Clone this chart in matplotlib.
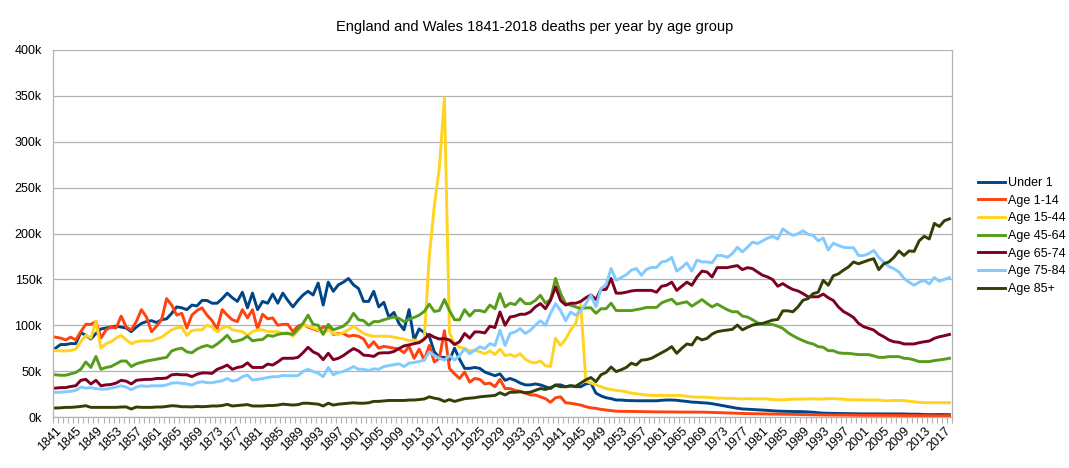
import matplotlib
matplotlib.use("Agg")
import matplotlib.pyplot as plt
from matplotlib.ticker import FixedLocator, FuncFormatter

plt.rcParams['font.family'] = ['Liberation Sans', 'DejaVu Sans']

# deaths per year, in thousands, 1841-2018
years = list(range(1841, 2019))

under1 = [
    75, 79, 79, 80, 80, 92, 89, 85, 91, 96,
    97, 98, 99, 98, 97, 93, 98, 102, 104, 105,
    103, 106, 107, 113, 120, 119, 117, 122, 121, 127,
    127, 124, 124, 129, 135, 130, 126, 136, 119, 135,
    117, 126, 124, 134, 124, 135, 127, 120, 127, 133,
    137, 133, 146, 122, 147, 137, 144, 147, 151, 144,
    140, 126, 126, 137, 120, 125, 109, 114, 102, 95,
    117, 84, 96, 92, 88, 71, 65, 65, 62, 75,
    63, 53, 53, 54, 53, 49, 47, 45, 47, 40,
    42, 40, 37, 35, 35, 36, 35, 33, 31, 35,
    35, 33, 34, 33, 33, 36, 37, 26, 23, 21,
    20, 18.5, 18.5, 18, 17.8, 17.7, 17.7, 17.6, 17.6, 17.7,
    18.2, 18.5, 18.5, 18.2, 17.5, 17, 16.2, 16, 15.5, 15.2,
    14.5, 13.5, 12.5, 11.6, 10.5, 9.5, 8.8, 8.5, 8.3, 8,
    7.5, 7.2, 6.8, 6.4, 6.2, 6.1, 6, 6, 5.8, 5.5,
    5.2, 4.6, 4.2, 4, 3.9, 3.8, 3.7, 3.6, 3.6, 3.5,
    3.4, 3.4, 3.5, 3.5, 3.5, 3.5, 3.4, 3.4, 3.3, 3.1,
    3.1, 3.0, 2.7, 2.6, 2.6, 2.7, 2.6, 2.5,
]

age1_14 = [
    87, 86, 84, 87, 84, 93, 101, 101, 104, 86,
    95, 98, 97, 110, 98, 95, 104, 117, 109, 93,
    99, 106, 129, 122, 111, 113, 97, 111, 116, 119,
    111, 105, 96, 117, 111, 106, 104, 117, 108, 117,
    96, 112, 107, 108, 100, 101, 101, 93, 99, 101,
    98, 96, 94, 98, 98, 90, 91, 91, 88, 89,
    88, 85, 76, 82, 75, 77, 76, 75, 74, 70,
    77, 64, 74, 62, 78, 60, 64, 94, 53, 47,
    42, 49, 38, 42, 41, 36, 37, 33, 41, 31,
    31, 29, 28, 26, 24, 24, 22, 20, 16, 21,
    22, 15.5, 15, 14, 13, 11.2, 10, 9.4, 8.3, 7.6,
    7, 6.3, 6.2, 6, 5.9, 5.8, 5.8, 5.7, 5.6, 5.6,
    5.6, 5.6, 5.5, 5.4, 5.4, 5.4, 5.3, 5.3, 5.3, 5.2,
    5, 4.8, 4.6, 4.4, 4.2, 4, 3.8, 3.7, 3.6, 3.5,
    3.3, 3.2, 3.1, 3, 2.9, 2.9, 2.8, 2.8, 2.7, 2.6,
    2.5, 2.4, 2.3, 2.2, 2.1, 2.1, 2, 2, 1.9, 1.9,
    1.8, 1.8, 1.8, 1.7, 1.7, 1.7, 1.7, 1.6, 1.6, 1.6,
    1.5, 1.5, 1.5, 1.4, 1.4, 1.4, 1.4, 1.4,
]

age15_44 = [
    72.5, 72, 72, 72.5, 74, 82, 89, 86, 104, 75,
    80, 82, 86, 89, 84, 80, 82, 83, 83, 83,
    85, 87, 91, 95, 97, 98, 89, 94, 95, 95,
    100, 98, 93, 97, 99, 95, 94, 93, 89, 93,
    95, 95, 93, 93, 93, 91, 92, 88, 94, 100,
    99, 97, 95, 91, 95, 91, 90, 92, 95, 99,
    95, 91, 89, 88, 88, 88, 88, 87, 86, 85,
    83, 84, 82, 84, 175, 230, 272, 348, 92, 80,
    76, 75, 72, 73, 71, 69, 72, 68, 74, 67,
    68, 66, 69, 63, 60, 59, 61, 56, 55, 86,
    78, 85, 95, 102, 123, 39, 37, 35, 33, 31,
    30, 29, 28.5, 27.5, 26, 25.3, 24.5, 24, 23.5, 23.5,
    23.5, 23.5, 23.5, 23.5, 23.5, 22.5, 22, 21.7, 21.7, 21.5,
    21, 20.6, 20.6, 20.3, 20.3, 20, 19.7, 20, 19.8, 19.8,
    19.8, 19.6, 19, 18.8, 18.8, 19, 19.5, 19.5, 19.5, 19.8,
    19.8, 19.5, 19.6, 20, 20, 19.7, 19.4, 18.8, 18.8, 18.8,
    18.6, 18.5, 18.5, 18.5, 17.7, 17.7, 18, 18, 17.8, 17.2,
    16.5, 16, 15.6, 15.6, 15.6, 15.6, 15.6, 15.6,
]

age45_64 = [
    46, 45.5, 45.5, 47, 48.5, 52, 60, 54, 66, 52,
    54, 55, 58, 61, 61, 55, 58, 59.5, 61, 62,
    63, 64, 65, 72, 74, 75, 71, 70, 74, 76.5,
    78, 76, 79.5, 84, 89, 82, 83, 84.5, 88, 83,
    84, 84.5, 89, 88, 90, 91, 91, 90, 96, 102,
    111, 101, 100, 90, 101, 95, 97, 99, 104, 113,
    106, 105, 100, 104, 104, 106, 107.5, 109, 107.5, 104,
    106.5, 108.5, 111, 115, 123, 115, 116, 128, 116, 106,
    106, 117, 110, 116, 116, 114.5, 122, 118, 134.5, 120,
    124, 122.5, 129, 123.6, 123.6, 127, 132.7, 124, 128, 151,
    134.5, 123.6, 121.8, 120, 118, 119, 119, 113, 118, 118,
    124, 116, 116, 116, 116, 117, 118, 119.4, 119.4, 119.4,
    124.4, 126.6, 128.4, 123, 124.4, 125.5, 120.8, 124.4, 128, 123.7,
    120, 123, 120, 117, 114.7, 114.7, 110, 109, 106, 102.7,
    101, 101, 100.7, 99, 96.6, 92, 88.6, 85.7, 83.2, 81,
    79.6, 76.7, 76, 72.3, 72.3, 70, 69.4, 69.4, 68.7, 68,
    68, 68, 66.6, 65, 65, 65.8, 65.8, 65.8, 64, 63.6,
    62.2, 60.4, 60.4, 60.4, 61.5, 62.2, 63, 64,
]

age65_74 = [
    31.5, 32, 32, 33.3, 34, 40, 41, 36, 40, 34,
    35, 35.5, 37, 40, 39, 36, 40, 40.6, 41, 41,
    42, 42, 42.5, 46, 46.5, 46, 46, 44, 46.5, 48,
    48, 47.5, 52, 54, 56.6, 52, 54, 55, 59, 54,
    54, 54, 57.7, 56.6, 60, 64, 64, 64, 65, 70,
    76, 71, 68.5, 62.5, 69.5, 62.5, 64, 67, 71, 74.6,
    72, 67.4, 67, 66, 69.6, 70, 70, 71.4, 74.6, 77.5,
    78.6, 80, 81, 85, 90, 87, 85, 85.5, 84, 79,
    82, 91, 86, 92.7, 92.7, 91.6, 99, 97.5, 114.5, 100,
    109, 110, 112, 112, 114.5, 120, 123.6, 118, 127, 141.8,
    127, 122, 124, 124, 126, 130, 133, 128, 139, 139,
    151, 135, 135, 136, 137.4, 138, 138, 138, 138, 136,
    142.5, 143.6, 147, 138, 142.5, 147, 143.6, 152.6, 159, 158,
    152.6, 162.8, 162.8, 162.8, 164, 165, 160.6, 162.8, 161.7, 158,
    154.5, 152.6, 149.7, 142.5, 145.4, 141.8, 139, 137.4, 134.5, 131,
    131, 131, 134, 130, 127, 120, 115, 112, 108.5, 102,
    98.4, 96.6, 94.8, 90.4, 87.5, 84, 82, 81.4, 79.6, 79.6,
    79.6, 81, 82, 82.8, 85.7, 87.5, 88.6, 90,
]

age75_84 = [
    26.8, 27, 27.5, 28, 29, 32.6, 31.5, 32, 31, 30.4,
    30.4, 31.5, 32.6, 34, 32.6, 29.7, 32.6, 34, 33.3, 34,
    34, 34, 35, 37, 37.4, 36.6, 36, 34.8, 37.4, 38.5,
    37.4, 37.4, 38.5, 39.5, 42, 39, 40.3, 43.9, 45.7, 40.3,
    41, 42, 43, 43.9, 43.9, 45.3, 45, 45, 45, 49.6,
    52, 49.6, 47.8, 44, 54, 46, 48.5, 49.6, 52, 55,
    52, 52, 50.7, 52.5, 52, 55, 56, 57, 58, 55,
    58.7, 59.4, 60.5, 62, 71, 67, 64, 62, 67, 62,
    67, 74.5, 69, 72.7, 76.4, 74.5, 80, 78, 94.5, 78,
    91, 92.7, 96.4, 91, 94.5, 100, 105, 100, 112.7, 123.6,
    116, 105, 114.5, 111, 116, 123.6, 132.7, 120, 140, 144,
    162, 149, 152, 155, 160, 161.7, 154.5, 161, 163, 163,
    169, 170, 174, 159, 163, 168, 159, 171, 169, 169,
    168, 176, 176, 174, 178, 185, 180, 185, 190.6, 189,
    192, 195, 197, 194, 205, 201, 198, 199.7, 203, 199,
    198, 192, 195, 182, 189.5, 187, 185, 184.5, 184.5, 176,
    176, 178, 181.6, 174, 169, 164, 161.7, 158, 151, 147,
    143.6, 147, 149, 145, 152, 148, 150, 152,
]

age85plus = [
    9.8, 10, 10.5, 10.5, 10.9, 11.5, 12.3, 10.5, 10.5, 10.5,
    10.5, 10.5, 10.5, 10.9, 11, 8.7, 10.9, 10.5, 10.5, 10.5,
    10.9, 10.9, 11.5, 12.3, 12, 11.2, 11.2, 11, 11.5, 11.2,
    11.5, 12, 12, 12.5, 13.8, 12, 12.5, 13, 13.5, 12,
    12, 12, 12.5, 12.5, 13, 14, 13.5, 13, 13.5, 15,
    15, 14.5, 14, 12, 15, 13, 14, 14.5, 15, 15.5,
    15, 15, 15.5, 17, 17, 17.5, 18, 18, 18, 18,
    18.5, 18.5, 19, 19.6, 22, 20.5, 19.5, 17, 19, 17,
    18.5, 20, 20.5, 21, 22, 22.5, 23, 23.5, 26.5, 24,
    27, 27, 27.5, 26.5, 27, 29, 31, 30, 32, 34.5,
    33, 33, 34, 33.5, 37, 40.5, 43, 38.5, 46, 48.5,
    54.5, 49.5, 51.5, 54, 58.6, 56.8, 62, 62.5, 64, 67,
    70, 73, 76.7, 69.4, 74.9, 79.6, 78.5, 86.8, 84, 85.7,
    90.4, 93, 94, 94.8, 95.5, 100.2, 95, 97.7, 100.2, 101.3,
    102, 103.8, 105.6, 106.3, 115.7, 115.7, 114.7, 120, 127.3, 129,
    134.5, 136, 149, 143.6, 154, 156, 160, 163.5, 169, 167,
    169, 171, 172.5, 160.6, 167, 169, 174, 181, 176, 181,
    180.5, 192, 197, 194, 211, 207.6, 214, 216,
]

series = [
    ("Under 1", under1, "#004586"),
    ("Age 1-14", age1_14, "#ff420e"),
    ("Age 15-44", age15_44, "#ffd320"),
    ("Age 45-64", age45_64, "#579d1c"),
    ("Age 65-74", age65_74, "#7e0021"),
    ("Age 75-84", age75_84, "#83caff"),
    ("Age 85+", age85plus, "#314004"),
]

fig = plt.figure(figsize=(10.69, 4.68), dpi=100)
ax = fig.add_axes([53 / 1069, 1 - 417 / 468, (952 - 53) / 1069, (417 - 50) / 468])

x = list(range(len(years)))
for name, vals, col in series:
    ax.plot(x, vals, color=col, lw=2.1, label=name, solid_joinstyle="round")

ax.set_xlim(-0.5, len(years) - 0.5)
ax.set_ylim(0, 400)
ax.set_yticks(range(0, 401, 50))
ax.yaxis.set_major_formatter(FuncFormatter(lambda v, p: f"{int(v)}k"))
ax.grid(axis="y", color="#b3b3b3", lw=0.9)
ax.set_axisbelow(True)
ax.tick_params(axis="y", length=0, labelsize=9, pad=8)

label_idx = list(range(0, len(years), 4))
ax.set_xticks(label_idx)
ax.set_xticklabels([str(years[i]) for i in label_idx], rotation=45,
                   ha="right", rotation_mode="anchor", fontsize=9)
ax.xaxis.set_minor_locator(FixedLocator([i - 0.5 for i in range(len(years) + 1)]))
ax.tick_params(axis="x", which="major", length=0, pad=6)
ax.tick_params(axis="x", which="minor", length=4, color="#b3b3b3", width=0.8)

for s in ax.spines.values():
    s.set_color("#b3b3b3")
    s.set_linewidth(0.9)
ax.spines["top"].set_visible(False)

fig.text(0.5, 1 - 27 / 468, "England and Wales 1841-2018 deaths per year by age group",
         ha="center", va="center", fontsize=10.5)

ax.legend(loc="center left", bbox_to_anchor=(967 / 1069, 1 - 236 / 468),
          bbox_transform=fig.transFigure, frameon=False, fontsize=9,
          handlelength=2.1, labelspacing=0.45, handletextpad=0.3)

fig.savefig("out.png", dpi=100)
